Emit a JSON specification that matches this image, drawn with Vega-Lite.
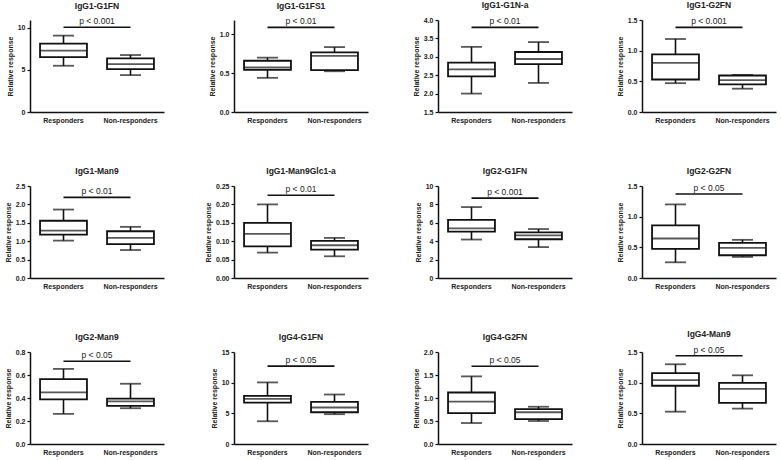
{
"$schema": "https://vega.github.io/schema/vega-lite/v6.json",
"background": "white",
"padding": {"left": 4, "top": 0, "right": 5, "bottom": 5},
"datasets": {"box": [
{"panel":"IgG1-G1FN","group":"Responders","lo":5.48,"q1":6.5,"med":7.26,"q3":8.1,"hi":9.05,"sig":10.04,"p":"p < 0.001"},
{"panel":"IgG1-G1FN","group":"Non-responders","lo":4.37,"q1":5.08,"med":5.67,"q3":6.35,"hi":6.75},
{"panel":"IgG1-G1FS1","group":"Responders","lo":0.44,"q1":0.543,"med":0.573,"q3":0.66,"hi":0.70,"sig":1.09,"p":"p < 0.01"},
{"panel":"IgG1-G1FS1","group":"Non-responders","lo":0.525,"q1":0.54,"med":0.724,"q3":0.767,"hi":0.836},
{"panel":"IgG1-G1N-a","group":"Responders","lo":2.0,"q1":2.47,"med":2.66,"q3":2.84,"hi":3.27,"sig":3.8,"p":"p < 0.01"},
{"panel":"IgG1-G1N-a","group":"Non-responders","lo":2.29,"q1":2.8,"med":2.94,"q3":3.13,"hi":3.4},
{"panel":"IgG1-G2FN","group":"Responders","lo":0.47,"q1":0.53,"med":0.80,"q3":0.94,"hi":1.19,"sig":1.38,"p":"p < 0.001"},
{"panel":"IgG1-G2FN","group":"Non-responders","lo":0.38,"q1":0.45,"med":0.52,"q3":0.595,"hi":0.605},
{"panel":"IgG1-Man9","group":"Responders","lo":1.016,"q1":1.178,"med":1.286,"q3":1.556,"hi":1.86,"sig":2.19,"p":"p < 0.01"},
{"panel":"IgG1-Man9","group":"Non-responders","lo":0.76,"q1":0.92,"med":1.09,"q3":1.27,"hi":1.39},
{"panel":"IgG1-Man9Glc1-a","group":"Responders","lo":0.069,"q1":0.086,"med":0.12,"q3":0.15,"hi":0.2,"sig":0.225,"p":"p < 0.01"},
{"panel":"IgG1-Man9Glc1-a","group":"Non-responders","lo":0.059,"q1":0.077,"med":0.089,"q3":0.101,"hi":0.109},
{"panel":"IgG2-G1FN","group":"Responders","lo":4.18,"q1":5.04,"med":5.39,"q3":6.32,"hi":7.71,"sig":8.68,"p":"p < 0.001"},
{"panel":"IgG2-G1FN","group":"Non-responders","lo":3.36,"q1":4.21,"med":4.64,"q3":4.96,"hi":5.32},
{"panel":"IgG2-G2FN","group":"Responders","lo":0.256,"q1":0.475,"med":0.644,"q3":0.857,"hi":1.2,"sig":1.37,"p":"p < 0.05"},
{"panel":"IgG2-G2FN","group":"Non-responders","lo":0.344,"q1":0.371,"med":0.49,"q3":0.573,"hi":0.622},
{"panel":"IgG2-Man9","group":"Responders","lo":0.262,"q1":0.388,"med":0.449,"q3":0.564,"hi":0.653,"sig":0.719,"p":"p < 0.05"},
{"panel":"IgG2-Man9","group":"Non-responders","lo":0.311,"q1":0.331,"med":0.371,"q3":0.394,"hi":0.524},
{"panel":"IgG4-G1FN","group":"Responders","lo":3.71,"q1":6.76,"med":7.36,"q3":7.86,"hi":10.04,"sig":12.7,"p":"p < 0.05"},
{"panel":"IgG4-G1FN","group":"Non-responders","lo":4.86,"q1":5.18,"med":5.95,"q3":6.87,"hi":8.07},
{"panel":"IgG4-G2FN","group":"Responders","lo":0.456,"q1":0.67,"med":0.92,"q3":1.12,"hi":1.47,"sig":1.69,"p":"p < 0.05"},
{"panel":"IgG4-G2FN","group":"Non-responders","lo":0.5,"q1":0.54,"med":0.69,"q3":0.76,"hi":0.81},
{"panel":"IgG4-Man9","group":"Responders","lo":0.527,"q1":0.95,"med":1.04,"q3":1.154,"hi":1.30,"sig":1.44,"p":"p < 0.05"},
{"panel":"IgG4-Man9","group":"Non-responders","lo":0.577,"q1":0.67,"med":0.90,"q3":0.995,"hi":1.12}
]},
"columns": 4,
"spacing": {"row": 74, "column": 70},
"bounds": "flush",
"concat": [
{"title":"IgG1-G1FN","width":134,"height":92,"data":{"name":"box"},"transform":[{"filter":"datum.panel === 'IgG1-G1FN'"}],
"encoding":{"x":{"field":"group","type":"nominal","sort":["Responders","Non-responders"],"scale":{"domain":["Responders","Non-responders"],"paddingInner":0,"paddingOuter":0},"title":null}},
"layer":[
{"mark":"rule","encoding":{"y":{"field":"lo","type":"quantitative","title":"Relative response","scale":{"domain":[0,10.9],"nice":false,"zero":false},"axis":{"values":[0,5,10],"format":"d","labelOverlap":false,"tickCount":20}},"y2":{"field":"hi"}}},
{"mark":{"type":"bar","fill":"white","stroke":"#111","strokeWidth":1.8,"width":{"band":0.7}},"encoding":{"y":{"field":"q1","type":"quantitative","title":"Relative response"},"y2":{"field":"q3"}}},
{"mark":{"type":"tick","size":47},"encoding":{"y":{"field":"med","type":"quantitative","title":"Relative response"}}},
{"mark":{"type":"tick","size":21},"encoding":{"y":{"field":"lo","type":"quantitative","title":"Relative response"}}},
{"mark":{"type":"tick","size":21},"encoding":{"y":{"field":"hi","type":"quantitative","title":"Relative response"}}},
{"transform":[{"filter":"datum.sig != null"}],"mark":"rule","encoding":{"x2":{"datum":"Non-responders"},"y":{"field":"sig","type":"quantitative","title":"Relative response"}}},
{"transform":[{"filter":"datum.sig != null"}],"mark":{"type":"text","baseline":"bottom","dy":-1},"encoding":{"x":{"field":"group","type":"nominal","bandPosition":1,"title":null},"y":{"field":"sig","type":"quantitative","title":"Relative response"},"text":{"field":"p"}}}
]},
{"title":"IgG1-G1FS1","width":134,"height":92,"data":{"name":"box"},"transform":[{"filter":"datum.panel === 'IgG1-G1FS1'"}],
"encoding":{"x":{"field":"group","type":"nominal","sort":["Responders","Non-responders"],"scale":{"domain":["Responders","Non-responders"],"paddingInner":0,"paddingOuter":0},"title":null}},
"layer":[
{"mark":"rule","encoding":{"y":{"field":"lo","type":"quantitative","title":"Relative response","scale":{"domain":[0,1.185],"nice":false,"zero":false},"axis":{"values":[0,0.5,1],"format":".1f","labelOverlap":false,"tickCount":20}},"y2":{"field":"hi"}}},
{"mark":{"type":"bar","fill":"white","stroke":"#111","strokeWidth":1.8,"width":{"band":0.7}},"encoding":{"y":{"field":"q1","type":"quantitative","title":"Relative response"},"y2":{"field":"q3"}}},
{"mark":{"type":"tick","size":47},"encoding":{"y":{"field":"med","type":"quantitative","title":"Relative response"}}},
{"mark":{"type":"tick","size":21},"encoding":{"y":{"field":"lo","type":"quantitative","title":"Relative response"}}},
{"mark":{"type":"tick","size":21},"encoding":{"y":{"field":"hi","type":"quantitative","title":"Relative response"}}},
{"transform":[{"filter":"datum.sig != null"}],"mark":"rule","encoding":{"x2":{"datum":"Non-responders"},"y":{"field":"sig","type":"quantitative","title":"Relative response"}}},
{"transform":[{"filter":"datum.sig != null"}],"mark":{"type":"text","baseline":"bottom","dy":-1},"encoding":{"x":{"field":"group","type":"nominal","bandPosition":1,"title":null},"y":{"field":"sig","type":"quantitative","title":"Relative response"},"text":{"field":"p"}}}
]},
{"title":"IgG1-G1N-a","width":134,"height":92,"data":{"name":"box"},"transform":[{"filter":"datum.panel === 'IgG1-G1N-a'"}],
"encoding":{"x":{"field":"group","type":"nominal","sort":["Responders","Non-responders"],"scale":{"domain":["Responders","Non-responders"],"paddingInner":0,"paddingOuter":0},"title":null}},
"layer":[
{"mark":"rule","encoding":{"y":{"field":"lo","type":"quantitative","title":"Relative response","scale":{"domain":[1.5,4],"nice":false,"zero":false},"axis":{"values":[1.5,2,2.5,3,3.5,4],"format":".1f","labelOverlap":false,"tickCount":20}},"y2":{"field":"hi"}}},
{"mark":{"type":"bar","fill":"white","stroke":"#111","strokeWidth":1.8,"width":{"band":0.7}},"encoding":{"y":{"field":"q1","type":"quantitative","title":"Relative response"},"y2":{"field":"q3"}}},
{"mark":{"type":"tick","size":47},"encoding":{"y":{"field":"med","type":"quantitative","title":"Relative response"}}},
{"mark":{"type":"tick","size":21},"encoding":{"y":{"field":"lo","type":"quantitative","title":"Relative response"}}},
{"mark":{"type":"tick","size":21},"encoding":{"y":{"field":"hi","type":"quantitative","title":"Relative response"}}},
{"transform":[{"filter":"datum.sig != null"}],"mark":"rule","encoding":{"x2":{"datum":"Non-responders"},"y":{"field":"sig","type":"quantitative","title":"Relative response"}}},
{"transform":[{"filter":"datum.sig != null"}],"mark":{"type":"text","baseline":"bottom","dy":-1},"encoding":{"x":{"field":"group","type":"nominal","bandPosition":1,"title":null},"y":{"field":"sig","type":"quantitative","title":"Relative response"},"text":{"field":"p"}}}
]},
{"title":"IgG1-G2FN","width":134,"height":92,"data":{"name":"box"},"transform":[{"filter":"datum.panel === 'IgG1-G2FN'"}],
"encoding":{"x":{"field":"group","type":"nominal","sort":["Responders","Non-responders"],"scale":{"domain":["Responders","Non-responders"],"paddingInner":0,"paddingOuter":0},"title":null}},
"layer":[
{"mark":"rule","encoding":{"y":{"field":"lo","type":"quantitative","title":"Relative response","scale":{"domain":[0,1.5],"nice":false,"zero":false},"axis":{"values":[0,0.5,1,1.5],"format":".1f","labelOverlap":false,"tickCount":20}},"y2":{"field":"hi"}}},
{"mark":{"type":"bar","fill":"white","stroke":"#111","strokeWidth":1.8,"width":{"band":0.7}},"encoding":{"y":{"field":"q1","type":"quantitative","title":"Relative response"},"y2":{"field":"q3"}}},
{"mark":{"type":"tick","size":47},"encoding":{"y":{"field":"med","type":"quantitative","title":"Relative response"}}},
{"mark":{"type":"tick","size":21},"encoding":{"y":{"field":"lo","type":"quantitative","title":"Relative response"}}},
{"mark":{"type":"tick","size":21},"encoding":{"y":{"field":"hi","type":"quantitative","title":"Relative response"}}},
{"transform":[{"filter":"datum.sig != null"}],"mark":"rule","encoding":{"x2":{"datum":"Non-responders"},"y":{"field":"sig","type":"quantitative","title":"Relative response"}}},
{"transform":[{"filter":"datum.sig != null"}],"mark":{"type":"text","baseline":"bottom","dy":-1},"encoding":{"x":{"field":"group","type":"nominal","bandPosition":1,"title":null},"y":{"field":"sig","type":"quantitative","title":"Relative response"},"text":{"field":"p"}}}
]},
{"title":"IgG1-Man9","width":134,"height":92,"data":{"name":"box"},"transform":[{"filter":"datum.panel === 'IgG1-Man9'"}],
"encoding":{"x":{"field":"group","type":"nominal","sort":["Responders","Non-responders"],"scale":{"domain":["Responders","Non-responders"],"paddingInner":0,"paddingOuter":0},"title":null}},
"layer":[
{"mark":"rule","encoding":{"y":{"field":"lo","type":"quantitative","title":"Relative response","scale":{"domain":[0,2.5],"nice":false,"zero":false},"axis":{"values":[0,0.5,1,1.5,2,2.5],"format":".1f","labelOverlap":false,"tickCount":20}},"y2":{"field":"hi"}}},
{"mark":{"type":"bar","fill":"white","stroke":"#111","strokeWidth":1.8,"width":{"band":0.7}},"encoding":{"y":{"field":"q1","type":"quantitative","title":"Relative response"},"y2":{"field":"q3"}}},
{"mark":{"type":"tick","size":47},"encoding":{"y":{"field":"med","type":"quantitative","title":"Relative response"}}},
{"mark":{"type":"tick","size":21},"encoding":{"y":{"field":"lo","type":"quantitative","title":"Relative response"}}},
{"mark":{"type":"tick","size":21},"encoding":{"y":{"field":"hi","type":"quantitative","title":"Relative response"}}},
{"transform":[{"filter":"datum.sig != null"}],"mark":"rule","encoding":{"x2":{"datum":"Non-responders"},"y":{"field":"sig","type":"quantitative","title":"Relative response"}}},
{"transform":[{"filter":"datum.sig != null"}],"mark":{"type":"text","baseline":"bottom","dy":-1},"encoding":{"x":{"field":"group","type":"nominal","bandPosition":1,"title":null},"y":{"field":"sig","type":"quantitative","title":"Relative response"},"text":{"field":"p"}}}
]},
{"title":"IgG1-Man9Glc1-a","width":134,"height":92,"data":{"name":"box"},"transform":[{"filter":"datum.panel === 'IgG1-Man9Glc1-a'"}],
"encoding":{"x":{"field":"group","type":"nominal","sort":["Responders","Non-responders"],"scale":{"domain":["Responders","Non-responders"],"paddingInner":0,"paddingOuter":0},"title":null}},
"layer":[
{"mark":"rule","encoding":{"y":{"field":"lo","type":"quantitative","title":"Relative response","scale":{"domain":[0,0.25],"nice":false,"zero":false},"axis":{"values":[0,0.05,0.1,0.15,0.2,0.25],"format":".2f","labelOverlap":false,"tickCount":20}},"y2":{"field":"hi"}}},
{"mark":{"type":"bar","fill":"white","stroke":"#111","strokeWidth":1.8,"width":{"band":0.7}},"encoding":{"y":{"field":"q1","type":"quantitative","title":"Relative response"},"y2":{"field":"q3"}}},
{"mark":{"type":"tick","size":47},"encoding":{"y":{"field":"med","type":"quantitative","title":"Relative response"}}},
{"mark":{"type":"tick","size":21},"encoding":{"y":{"field":"lo","type":"quantitative","title":"Relative response"}}},
{"mark":{"type":"tick","size":21},"encoding":{"y":{"field":"hi","type":"quantitative","title":"Relative response"}}},
{"transform":[{"filter":"datum.sig != null"}],"mark":"rule","encoding":{"x2":{"datum":"Non-responders"},"y":{"field":"sig","type":"quantitative","title":"Relative response"}}},
{"transform":[{"filter":"datum.sig != null"}],"mark":{"type":"text","baseline":"bottom","dy":-1},"encoding":{"x":{"field":"group","type":"nominal","bandPosition":1,"title":null},"y":{"field":"sig","type":"quantitative","title":"Relative response"},"text":{"field":"p"}}}
]},
{"title":"IgG2-G1FN","width":134,"height":92,"data":{"name":"box"},"transform":[{"filter":"datum.panel === 'IgG2-G1FN'"}],
"encoding":{"x":{"field":"group","type":"nominal","sort":["Responders","Non-responders"],"scale":{"domain":["Responders","Non-responders"],"paddingInner":0,"paddingOuter":0},"title":null}},
"layer":[
{"mark":"rule","encoding":{"y":{"field":"lo","type":"quantitative","title":"Relative response","scale":{"domain":[0,10],"nice":false,"zero":false},"axis":{"values":[0,2,4,6,8,10],"format":"d","labelOverlap":false,"tickCount":20}},"y2":{"field":"hi"}}},
{"mark":{"type":"bar","fill":"white","stroke":"#111","strokeWidth":1.8,"width":{"band":0.7}},"encoding":{"y":{"field":"q1","type":"quantitative","title":"Relative response"},"y2":{"field":"q3"}}},
{"mark":{"type":"tick","size":47},"encoding":{"y":{"field":"med","type":"quantitative","title":"Relative response"}}},
{"mark":{"type":"tick","size":21},"encoding":{"y":{"field":"lo","type":"quantitative","title":"Relative response"}}},
{"mark":{"type":"tick","size":21},"encoding":{"y":{"field":"hi","type":"quantitative","title":"Relative response"}}},
{"transform":[{"filter":"datum.sig != null"}],"mark":"rule","encoding":{"x2":{"datum":"Non-responders"},"y":{"field":"sig","type":"quantitative","title":"Relative response"}}},
{"transform":[{"filter":"datum.sig != null"}],"mark":{"type":"text","baseline":"bottom","dy":-1},"encoding":{"x":{"field":"group","type":"nominal","bandPosition":1,"title":null},"y":{"field":"sig","type":"quantitative","title":"Relative response"},"text":{"field":"p"}}}
]},
{"title":"IgG2-G2FN","width":134,"height":92,"data":{"name":"box"},"transform":[{"filter":"datum.panel === 'IgG2-G2FN'"}],
"encoding":{"x":{"field":"group","type":"nominal","sort":["Responders","Non-responders"],"scale":{"domain":["Responders","Non-responders"],"paddingInner":0,"paddingOuter":0},"title":null}},
"layer":[
{"mark":"rule","encoding":{"y":{"field":"lo","type":"quantitative","title":"Relative response","scale":{"domain":[0,1.5],"nice":false,"zero":false},"axis":{"values":[0,0.5,1,1.5],"format":".1f","labelOverlap":false,"tickCount":20}},"y2":{"field":"hi"}}},
{"mark":{"type":"bar","fill":"white","stroke":"#111","strokeWidth":1.8,"width":{"band":0.7}},"encoding":{"y":{"field":"q1","type":"quantitative","title":"Relative response"},"y2":{"field":"q3"}}},
{"mark":{"type":"tick","size":47},"encoding":{"y":{"field":"med","type":"quantitative","title":"Relative response"}}},
{"mark":{"type":"tick","size":21},"encoding":{"y":{"field":"lo","type":"quantitative","title":"Relative response"}}},
{"mark":{"type":"tick","size":21},"encoding":{"y":{"field":"hi","type":"quantitative","title":"Relative response"}}},
{"transform":[{"filter":"datum.sig != null"}],"mark":"rule","encoding":{"x2":{"datum":"Non-responders"},"y":{"field":"sig","type":"quantitative","title":"Relative response"}}},
{"transform":[{"filter":"datum.sig != null"}],"mark":{"type":"text","baseline":"bottom","dy":-1},"encoding":{"x":{"field":"group","type":"nominal","bandPosition":1,"title":null},"y":{"field":"sig","type":"quantitative","title":"Relative response"},"text":{"field":"p"}}}
]},
{"title":"IgG2-Man9","width":134,"height":92,"data":{"name":"box"},"transform":[{"filter":"datum.panel === 'IgG2-Man9'"}],
"encoding":{"x":{"field":"group","type":"nominal","sort":["Responders","Non-responders"],"scale":{"domain":["Responders","Non-responders"],"paddingInner":0,"paddingOuter":0},"title":null}},
"layer":[
{"mark":"rule","encoding":{"y":{"field":"lo","type":"quantitative","title":"Relative response","scale":{"domain":[0,0.8],"nice":false,"zero":false},"axis":{"values":[0,0.2,0.4,0.6,0.8],"format":".1f","labelOverlap":false,"tickCount":20}},"y2":{"field":"hi"}}},
{"mark":{"type":"bar","fill":"white","stroke":"#111","strokeWidth":1.8,"width":{"band":0.7}},"encoding":{"y":{"field":"q1","type":"quantitative","title":"Relative response"},"y2":{"field":"q3"}}},
{"mark":{"type":"tick","size":47},"encoding":{"y":{"field":"med","type":"quantitative","title":"Relative response"}}},
{"mark":{"type":"tick","size":21},"encoding":{"y":{"field":"lo","type":"quantitative","title":"Relative response"}}},
{"mark":{"type":"tick","size":21},"encoding":{"y":{"field":"hi","type":"quantitative","title":"Relative response"}}},
{"transform":[{"filter":"datum.sig != null"}],"mark":"rule","encoding":{"x2":{"datum":"Non-responders"},"y":{"field":"sig","type":"quantitative","title":"Relative response"}}},
{"transform":[{"filter":"datum.sig != null"}],"mark":{"type":"text","baseline":"bottom","dy":-1},"encoding":{"x":{"field":"group","type":"nominal","bandPosition":1,"title":null},"y":{"field":"sig","type":"quantitative","title":"Relative response"},"text":{"field":"p"}}}
]},
{"title":"IgG4-G1FN","width":134,"height":92,"data":{"name":"box"},"transform":[{"filter":"datum.panel === 'IgG4-G1FN'"}],
"encoding":{"x":{"field":"group","type":"nominal","sort":["Responders","Non-responders"],"scale":{"domain":["Responders","Non-responders"],"paddingInner":0,"paddingOuter":0},"title":null}},
"layer":[
{"mark":"rule","encoding":{"y":{"field":"lo","type":"quantitative","title":"Relative response","scale":{"domain":[0,15],"nice":false,"zero":false},"axis":{"values":[0,5,10,15],"format":"d","labelOverlap":false,"tickCount":20}},"y2":{"field":"hi"}}},
{"mark":{"type":"bar","fill":"white","stroke":"#111","strokeWidth":1.8,"width":{"band":0.7}},"encoding":{"y":{"field":"q1","type":"quantitative","title":"Relative response"},"y2":{"field":"q3"}}},
{"mark":{"type":"tick","size":47},"encoding":{"y":{"field":"med","type":"quantitative","title":"Relative response"}}},
{"mark":{"type":"tick","size":21},"encoding":{"y":{"field":"lo","type":"quantitative","title":"Relative response"}}},
{"mark":{"type":"tick","size":21},"encoding":{"y":{"field":"hi","type":"quantitative","title":"Relative response"}}},
{"transform":[{"filter":"datum.sig != null"}],"mark":"rule","encoding":{"x2":{"datum":"Non-responders"},"y":{"field":"sig","type":"quantitative","title":"Relative response"}}},
{"transform":[{"filter":"datum.sig != null"}],"mark":{"type":"text","baseline":"bottom","dy":-1},"encoding":{"x":{"field":"group","type":"nominal","bandPosition":1,"title":null},"y":{"field":"sig","type":"quantitative","title":"Relative response"},"text":{"field":"p"}}}
]},
{"title":"IgG4-G2FN","width":134,"height":92,"data":{"name":"box"},"transform":[{"filter":"datum.panel === 'IgG4-G2FN'"}],
"encoding":{"x":{"field":"group","type":"nominal","sort":["Responders","Non-responders"],"scale":{"domain":["Responders","Non-responders"],"paddingInner":0,"paddingOuter":0},"title":null}},
"layer":[
{"mark":"rule","encoding":{"y":{"field":"lo","type":"quantitative","title":"Relative response","scale":{"domain":[0,2],"nice":false,"zero":false},"axis":{"values":[0,0.5,1,1.5,2],"format":".1f","labelOverlap":false,"tickCount":20}},"y2":{"field":"hi"}}},
{"mark":{"type":"bar","fill":"white","stroke":"#111","strokeWidth":1.8,"width":{"band":0.7}},"encoding":{"y":{"field":"q1","type":"quantitative","title":"Relative response"},"y2":{"field":"q3"}}},
{"mark":{"type":"tick","size":47},"encoding":{"y":{"field":"med","type":"quantitative","title":"Relative response"}}},
{"mark":{"type":"tick","size":21},"encoding":{"y":{"field":"lo","type":"quantitative","title":"Relative response"}}},
{"mark":{"type":"tick","size":21},"encoding":{"y":{"field":"hi","type":"quantitative","title":"Relative response"}}},
{"transform":[{"filter":"datum.sig != null"}],"mark":"rule","encoding":{"x2":{"datum":"Non-responders"},"y":{"field":"sig","type":"quantitative","title":"Relative response"}}},
{"transform":[{"filter":"datum.sig != null"}],"mark":{"type":"text","baseline":"bottom","dy":-1},"encoding":{"x":{"field":"group","type":"nominal","bandPosition":1,"title":null},"y":{"field":"sig","type":"quantitative","title":"Relative response"},"text":{"field":"p"}}}
]},
{"title":"IgG4-Man9","width":134,"height":92,"data":{"name":"box"},"transform":[{"filter":"datum.panel === 'IgG4-Man9'"}],
"encoding":{"x":{"field":"group","type":"nominal","sort":["Responders","Non-responders"],"scale":{"domain":["Responders","Non-responders"],"paddingInner":0,"paddingOuter":0},"title":null}},
"layer":[
{"mark":"rule","encoding":{"y":{"field":"lo","type":"quantitative","title":"Relative response","scale":{"domain":[0,1.5],"nice":false,"zero":false},"axis":{"values":[0,0.5,1,1.5],"format":".1f","labelOverlap":false,"tickCount":20}},"y2":{"field":"hi"}}},
{"mark":{"type":"bar","fill":"white","stroke":"#111","strokeWidth":1.8,"width":{"band":0.7}},"encoding":{"y":{"field":"q1","type":"quantitative","title":"Relative response"},"y2":{"field":"q3"}}},
{"mark":{"type":"tick","size":47},"encoding":{"y":{"field":"med","type":"quantitative","title":"Relative response"}}},
{"mark":{"type":"tick","size":21},"encoding":{"y":{"field":"lo","type":"quantitative","title":"Relative response"}}},
{"mark":{"type":"tick","size":21},"encoding":{"y":{"field":"hi","type":"quantitative","title":"Relative response"}}},
{"transform":[{"filter":"datum.sig != null"}],"mark":"rule","encoding":{"x2":{"datum":"Non-responders"},"y":{"field":"sig","type":"quantitative","title":"Relative response"}}},
{"transform":[{"filter":"datum.sig != null"}],"mark":{"type":"text","baseline":"bottom","dy":-1},"encoding":{"x":{"field":"group","type":"nominal","bandPosition":1,"title":null},"y":{"field":"sig","type":"quantitative","title":"Relative response"},"text":{"field":"p"}}}
]}
],
"config": {
"view": {"stroke": null},
"font": "Liberation Sans",
"axis": {"grid": false, "domainColor": "#111", "domainWidth": 1.5, "tickColor": "#111", "tickWidth": 1.2, "labelColor": "#222", "labelFont": "Liberation Sans", "labelFontWeight": "bold", "labelFontSize": 7, "titleFont": "Liberation Sans", "titleFontSize": 7, "titleFontWeight": "bold", "titleColor": "#222"},
"axisX": {"ticks": false, "labelAngle": 0, "labelPadding": 4},
"axisY": {"tickSize": 3, "labelPadding": 2, "titlePadding": 4, "labelOverlap": false, "labelFlush": false, "labelBound": false},
"title": {"font": "Liberation Sans", "fontSize": 8.5, "fontWeight": "bold", "color": "#222", "offset": 7, "anchor": "middle"},
"rule": {"color": "#111", "strokeWidth": 1.6},
"tick": {"color": "#111", "thickness": 1.8},
"text": {"font": "Liberation Sans", "fontSize": 8.5, "color": "#222"}
}
}
